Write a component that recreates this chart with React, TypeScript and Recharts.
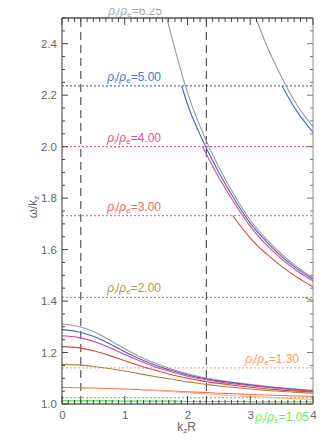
import React from 'react';
import { LineChart, Line, XAxis, YAxis, ReferenceLine } from 'recharts';

// kR grid used by the fundamental (kink) branches
const kGrid = [0, 0.25, 0.5, 0.75, 1, 1.25, 1.5, 1.75, 2, 2.25, 2.5, 2.75, 3, 3.25, 3.5, 3.75, 4];

// fundamental kink branches, omega/kz
const kink625 = [1.311, 1.302, 1.282, 1.25, 1.215, 1.183, 1.157, 1.135, 1.117, 1.103, 1.092, 1.083, 1.076, 1.069, 1.063, 1.058, 1.053];
const kink500 = [1.289, 1.281, 1.263, 1.235, 1.203, 1.174, 1.15, 1.13, 1.113, 1.1, 1.09, 1.082, 1.074, 1.067, 1.061, 1.056, 1.051];
const kink400 = [1.265, 1.259, 1.244, 1.22, 1.192, 1.166, 1.143, 1.124, 1.108, 1.096, 1.086, 1.078, 1.071, 1.065, 1.059, 1.054, 1.05];
const kink300 = [1.223, 1.219, 1.207, 1.189, 1.168, 1.148, 1.13, 1.114, 1.1, 1.089, 1.08, 1.072, 1.065, 1.059, 1.054, 1.05, 1.046];
const kink200 = [1.154, 1.152, 1.146, 1.138, 1.128, 1.117, 1.106, 1.096, 1.086, 1.078, 1.07, 1.064, 1.058, 1.053, 1.049, 1.045, 1.042];
const kink130 = [1.064, 1.063, 1.062, 1.06, 1.058, 1.056, 1.053, 1.05, 1.047, 1.045, 1.042, 1.04, 1.037, 1.035, 1.033, 1.031, 1.03];
const kink105 = [1.012, 1.012, 1.012, 1.012, 1.011, 1.011, 1.011, 1.011, 1.01, 1.01, 1.01, 1.01, 1.009, 1.009, 1.009, 1.009, 1.009];

const kSalmon = [1.25, 1.5, 1.75, 2, 2.25, 2.5, 2.75, 3, 3.25, 3.5, 3.75, 4];
const vSalmon = [1.056, 1.052, 1.048, 1.044, 1.04, 1.036, 1.032, 1.029, 1.026, 1.023, 1.02, 1.018];

// higher (body) branches
const kBody625a = [1.67, 1.75, 2, 2.25, 2.5, 2.75, 3, 3.25, 3.5, 3.75, 4];
const vBody625a = [2.5, 2.425, 2.21, 2.05, 1.92, 1.81, 1.715, 1.643, 1.582, 1.532, 1.49];
const kBody625b = [3.09, 3.25, 3.5, 3.75, 4];
const vBody625b = [2.5, 2.4, 2.27, 2.16, 2.078];
const kBody500a = [1.907, 2, 2.25, 2.5, 2.75, 3, 3.25, 3.5, 3.75, 4];
const vBody500a = [2.236, 2.165, 2.02, 1.9, 1.795, 1.703, 1.633, 1.573, 1.525, 1.485];
const kBody500b = [3.506, 3.75, 4];
const vBody500b = [2.236, 2.135, 2.056];
const kBody400a = [2.24, 2.5, 2.75, 3, 3.25, 3.5, 3.75, 4];
const vBody400a = [2.0, 1.88, 1.78, 1.69, 1.62, 1.563, 1.517, 1.478];
const kBody300a = [2.72, 2.75, 3, 3.25, 3.5, 3.75, 4];
const vBody300a = [1.732, 1.722, 1.645, 1.585, 1.535, 1.492, 1.455];
const kBody200a = [3.87, 4];
const vBody200a = [1.414, 1.401];

// density ratios and their cutoff speeds
const ratioLabels = ['6.25', '5.00', '4.00', '3.00', '2.00', '1.30', '1.05'];
const cutoffs = [2.5, 2.236, 2.0, 1.732, 1.414, 1.14, 1.0247];
const dashedK = [0.3, 2.3];

const yMajor = ['1.0', '1.2', '1.4', '1.6', '1.8', '2.0', '2.2', '2.4'];

// styles kept apart from the data
const lineColors = ['#9a9a9a', '#3d63d2', '#e2409c', '#d6483e', '#a08c40', '#ff7240', '#3ee63e'];
const cutColors = ['#aaaaaa', '#4a70dc', '#e8529f', '#ef7a78', '#b0a050', '#ffa888', '#55e855'];
const labelColors = ['#aaaaaa', '#4a70dc', '#e8509f', '#e56a6a', '#a89a55', '#ff9a6a', '#66ee66'];
const labelPos = [
  { dx: 100, dy: -3 },
  { dx: 99, dy: -5 },
  { dx: 99, dy: -5 },
  { dx: 99, dy: -5 },
  { dx: 99, dy: -5 },
  { dx: 237, dy: -5 },
  { dx: 247, dy: 23 },
];

const FONT = '"Liberation Sans", Arial, sans-serif';
const TICK_COLOR = '#666';

const pts = (ks: number[], vs: number[]) => ks.map((k, i) => ({ k, v: vs[i] }));

const xMinor: number[] = [];
for (let i = 0; i <= 40; i++) xMinor.push(i / 10);
const yMinor: number[] = [];
for (let i = 20; i <= 50; i++) yMinor.push(i / 20);

const isXMajor = (v: number) => Math.abs(v - Math.round(v)) < 1e-6;
const isYMajor = (v: number) => yMajor.includes(v.toFixed(1)) && Math.abs(v * 10 - Math.round(v * 10)) < 1e-6;

const BottomTick = (p: any) => {
  const { x, y, payload } = p;
  const major = isXMajor(payload.value);
  return (
    <g>
      <line x1={x} x2={x} y1={y} y2={y - (major ? 8 : 4)} stroke="#444" />
      {major && (
        <text x={x + 0.5} y={y + 15} textAnchor="middle" fontSize={11.5} fontFamily={FONT} fill={TICK_COLOR}>
          {payload.value}
        </text>
      )}
    </g>
  );
};

const TopTick = (p: any) => {
  const { x, y, payload } = p;
  const major = isXMajor(payload.value);
  return <line x1={x} x2={x} y1={y} y2={y + (major ? 7 : 4)} stroke="#444" />;
};

const LeftTick = (p: any) => {
  const { x, y, payload } = p;
  const major = isYMajor(payload.value);
  return (
    <g>
      <line x1={x} x2={x + (major ? 6 : 3)} y1={y} y2={y} stroke="#444" />
      {major && (
        <text x={x - 5} y={y + 4} textAnchor="end" fontSize={11.5} fontFamily={FONT} fill={TICK_COLOR}>
          {payload.value.toFixed(1)}
        </text>
      )}
    </g>
  );
};

const RightTick = (p: any) => {
  const { x, y, payload } = p;
  const major = isYMajor(payload.value);
  return <line x1={x} x2={x - (major ? 6 : 3)} y1={y} y2={y} stroke="#777" />;
};

const RatioLabel = ({ viewBox, value, color, dx, dy }: any) => {
  const { x, y } = viewBox;
  return (
    <text x={x + dx} y={y + dy} textAnchor="end" fill={color} fontSize={12} fontFamily={FONT}>
      <tspan fontStyle="italic">ρ</tspan>
      <tspan fontSize={8} dy={2}>i</tspan>
      <tspan dy={-2}>/</tspan>
      <tspan fontStyle="italic">ρ</tspan>
      <tspan fontSize={8} dy={2}>e</tspan>
      <tspan dy={-2}>={value}</tspan>
    </text>
  );
};

const XTitle = ({ viewBox }: any) => (
  <text x={viewBox.x + viewBox.width / 2 - 1} y={viewBox.y + 27} textAnchor="middle" fontSize={12} fontFamily={FONT} fill={TICK_COLOR}>
    k<tspan fontSize={8} dy={2}>z</tspan>
    <tspan dy={-2}>R</tspan>
  </text>
);

const YTitle = ({ viewBox }: any) => {
  const cx = viewBox.x - 24;
  const cy = viewBox.y + 189;
  return (
    <text x={cx} y={cy} transform={`rotate(-90 ${cx} ${cy})`} textAnchor="middle" fontSize={12} fontFamily={FONT} fill={TICK_COLOR}>
      ω/k<tspan fontSize={8} dy={2}>z</tspan>
    </text>
  );
};

const kinks = [kink625, kink500, kink400, kink300, kink200, kink130, kink105];

const bodies = [
  { ks: kBody625a, vs: vBody625a, c: 0 },
  { ks: kBody500a, vs: vBody500a, c: 1 },
  { ks: kBody400a, vs: vBody400a, c: 2 },
  { ks: kBody300a, vs: vBody300a, c: 3 },
  { ks: kBody200a, vs: vBody200a, c: 4 },
  { ks: kBody500b, vs: vBody500b, c: 1 },
];

export default function App() {
  return (
    <div style={{ marginTop: -8, marginLeft: -8 }}>
      <LineChart width={324} height={435} margin={{ top: 17, right: 10, bottom: 30, left: 61 }}>
        <XAxis
          dataKey="k"
          type="number"
          domain={[0, 4]}
          allowDataOverflow
          ticks={xMinor}
          interval={0}
          height={1}
          tickSize={0}
          tickMargin={0}
          tickLine={false}
          axisLine={{ stroke: '#8a8a8a', strokeWidth: 2 }}
          tick={(p: any) => <BottomTick {...p} />}
          label={{ content: (p: any) => <XTitle {...p} /> }}
        />
        <XAxis
          xAxisId="top"
          orientation="top"
          dataKey="k"
          type="number"
          domain={[0, 4]}
          allowDataOverflow
          ticks={xMinor}
          interval={0}
          height={1}
          tickSize={0}
          tickMargin={0}
          tickLine={false}
          axisLine={{ stroke: '#555', strokeWidth: 1.5 }}
          tick={(p: any) => <TopTick {...p} />}
        />
        <YAxis
          type="number"
          domain={[1, 2.5]}
          allowDataOverflow
          ticks={yMinor}
          interval={0}
          width={1}
          tickSize={0}
          tickMargin={0}
          tickLine={false}
          axisLine={{ stroke: '#333' }}
          tick={(p: any) => <LeftTick {...p} />}
          label={{ content: (p: any) => <YTitle {...p} /> }}
        />
        <YAxis
          yAxisId="right"
          orientation="right"
          type="number"
          domain={[1, 2.5]}
          allowDataOverflow
          ticks={yMinor}
          interval={0}
          width={1}
          tickSize={0}
          tickMargin={0}
          tickLine={false}
          axisLine={{ stroke: '#888' }}
          tick={(p: any) => <RightTick {...p} />}
        />

        {cutoffs.map((c, i) => (
          <ReferenceLine
            key={'cut' + i}
            y={c}
            stroke={i === 0 ? 'none' : cutColors[i]}
            strokeDasharray="2 2"
            strokeWidth={1.2}
            ifOverflow="visible"
            label={(p: any) => (
              <RatioLabel {...p} value={ratioLabels[i]} color={labelColors[i]} dx={labelPos[i].dx} dy={labelPos[i].dy} />
            )}
          />
        ))}
        {dashedK.map((k) => (
          <ReferenceLine key={'dash' + k} x={k} stroke="#333" strokeDasharray="8 5" />
        ))}

        {kinks.map((vs, i) => (
          <Line
            key={'kink' + i}
            data={pts(kGrid, vs)}
            dataKey="v"
            type="monotone"
            stroke={lineColors[i]}
            strokeWidth={1.1}
            dot={false}
            isAnimationActive={false}
          />
        ))}
        <Line
          data={pts(kSalmon, vSalmon)}
          dataKey="v"
          type="monotone"
          stroke="#ffb090"
          strokeWidth={1.1}
          dot={false}
          isAnimationActive={false}
        />
        {bodies.map((b, i) => (
          <Line
            key={'body' + i}
            data={pts(b.ks, b.vs)}
            dataKey="v"
            type="monotone"
            stroke={lineColors[b.c]}
            strokeWidth={1.1}
            dot={false}
            isAnimationActive={false}
          />
        ))}
        <Line
          xAxisId="top"
          yAxisId="right"
          data={pts(kBody625b, vBody625b)}
          dataKey="v"
          type="monotone"
          stroke={lineColors[0]}
          strokeWidth={1.1}
          dot={false}
          isAnimationActive={false}
        />
      </LineChart>
    </div>
  );
}
